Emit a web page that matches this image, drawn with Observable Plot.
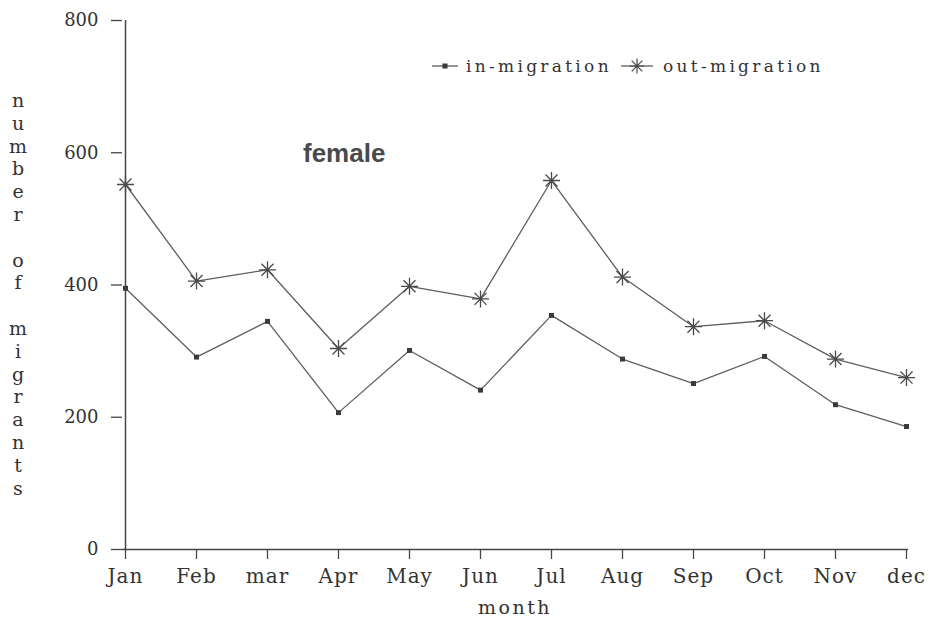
<!DOCTYPE html>
<html>
<head>
<meta charset="utf-8">
<script src="https://cdn.jsdelivr.net/npm/d3@7"></script>
<script src="https://cdn.jsdelivr.net/npm/@observablehq/plot@0.6"></script>
<style>
  html, body { margin: 0; padding: 0; background: #fff; }
  #wrap { position: relative; width: 932px; height: 622px; font-family: "DejaVu Serif", serif; color: #333; }
  #wrap svg.chart g[aria-label="x-axis tick label"] text { letter-spacing: 1px; }
  .ov { position: absolute; white-space: pre; }
  #ylab { left: 0; top: 89px; width: 36px; text-align: center; font-size: 19px; line-height: 22.8px; }
  #xlab { left: 455px; width: 120px; top: 596px; text-align: center; font-size: 19px; letter-spacing: 2.5px; }
  #note { left: 303px; top: 140px; font-family: "Liberation Sans", Arial, sans-serif; font-weight: bold; font-size: 26px; line-height: 26px; color: #4a4a4a; }
  .leg { top: 56px; font-size: 17px; letter-spacing: 3.3px; display: flex; align-items: center; }
</style>
</head>
<body>
<div id="wrap"></div>
<script>
// ---- data ----
const months = ["Jan","Feb","mar","Apr","May","Jun","Jul","Aug","Sep","Oct","Nov","dec"];
const inMigration  = [395, 291, 345, 207, 301, 241, 354, 288, 251, 292, 219, 186];
const outMigration = [552, 406, 423, 304, 398, 379, 558, 412, 337, 346, 288, 260];
const yTicks = [0, 200, 400, 600, 800];
const seriesNames = ["in-migration", "out-migration"];
const yLabel = "number of migrants";
const xLabel = "month";
const noteText = "female";

const inData = months.map((m, i) => ({month: m, value: inMigration[i]}));
const outData = months.map((m, i) => ({month: m, value: outMigration[i]}));

const lineColor = "#5e5e5e";
const axisColor = "#444";

// eight-spoke asterisk symbol
const asterisk8 = {
  draw(ctx, size) {
    const r = Math.sqrt(size / Math.PI);
    const d = r * Math.SQRT1_2;
    ctx.moveTo(-r, 0); ctx.lineTo(r, 0);
    ctx.moveTo(0, -r); ctx.lineTo(0, r);
    ctx.moveTo(-d, -d); ctx.lineTo(d, d);
    ctx.moveTo(-d, d); ctx.lineTo(d, -d);
  }
};

const chart = Plot.plot({
  width: 932,
  height: 622,
  marginLeft: 122,
  marginRight: 24,
  marginTop: 20,
  marginBottom: 73,
  style: {fontFamily: "DejaVu Serif, serif", fontSize: "18px", color: "#333", background: "white"},
  x: {type: "point", domain: months, padding: 0, label: null},
  y: {domain: [0, 800], label: null},
  marks: [
    Plot.ruleY([0], {stroke: axisColor, strokeWidth: 1.5}),
    Plot.ruleX([months[0]], {stroke: axisColor, strokeWidth: 1.5}),
    Plot.axisY({ticks: yTicks, tickSize: 11, tickPadding: 13, fontSize: 18, label: null, stroke: axisColor, strokeWidth: 1.3}),
    Plot.axisX({tickSize: 10, tickPadding: 9, fontSize: 20, label: null, stroke: axisColor, strokeWidth: 1.3}),
    Plot.line(inData, {x: "month", y: "value", stroke: lineColor, strokeWidth: 1.3}),
    Plot.line(outData, {x: "month", y: "value", stroke: lineColor, strokeWidth: 1.3}),
    Plot.dot(inData, {x: "month", y: "value", symbol: "square", r: 2.8, fill: "#3a3a3a", stroke: "none"}),
    Plot.dot(outData, {x: "month", y: "value", symbol: asterisk8, r: 8.5, fill: "none", stroke: "#4a4a4a", strokeWidth: 1.3})
  ]
});
chart.classList.add("chart");
const wrap = document.getElementById("wrap");
wrap.appendChild(chart);

// y-axis label stacked letters
const yl = document.createElement("div");
yl.className = "ov"; yl.id = "ylab";
yl.textContent = yLabel.split("").join("\n");
wrap.appendChild(yl);

// x-axis label
const xl = document.createElement("div");
xl.className = "ov"; xl.id = "xlab";
xl.textContent = xLabel;
wrap.appendChild(xl);

// annotation
const note = document.createElement("div");
note.className = "ov"; note.id = "note";
note.textContent = noteText;
wrap.appendChild(note);

// legend
function swatch(kind, w) {
  const ns = "http://www.w3.org/2000/svg";
  const s = document.createElementNS(ns, "svg");
  s.setAttribute("width", w); s.setAttribute("height", 20);
  const l = document.createElementNS(ns, "line");
  l.setAttribute("x1", 0); l.setAttribute("x2", w); l.setAttribute("y1", 10); l.setAttribute("y2", 10);
  l.setAttribute("stroke", lineColor); l.setAttribute("stroke-width", 1.3);
  s.appendChild(l);
  const c = w / 2;
  if (kind === 0) {
    const r = document.createElementNS(ns, "rect");
    r.setAttribute("x", c - 2.5); r.setAttribute("y", 7.5); r.setAttribute("width", 5); r.setAttribute("height", 5);
    r.setAttribute("fill", "#3a3a3a");
    s.appendChild(r);
  } else {
    const p = document.createElementNS(ns, "path");
    const rr = 7.5, d = rr * Math.SQRT1_2;
    p.setAttribute("d", `M${c-rr},10H${c+rr}M${c},${10-rr}V${10+rr}M${c-d},${10-d}L${c+d},${10+d}M${c-d},${10+d}L${c+d},${10-d}`);
    p.setAttribute("stroke", "#4a4a4a"); p.setAttribute("stroke-width", 1.2); p.setAttribute("fill", "none");
    s.appendChild(p);
  }
  return s;
}
const legLefts = [432, 621];
const legWidths = [26, 32];
const legGaps = [8, 10];
seriesNames.forEach((name, i) => {
  const g = document.createElement("div");
  g.className = "ov leg";
  g.style.left = legLefts[i] + "px";
  const sw = swatch(i, legWidths[i]);
  sw.style.marginRight = legGaps[i] + "px";
  g.appendChild(sw);
  const t = document.createElement("span");
  t.textContent = name;
  g.appendChild(t);
  wrap.appendChild(g);
});
</script>
</body>
</html>
